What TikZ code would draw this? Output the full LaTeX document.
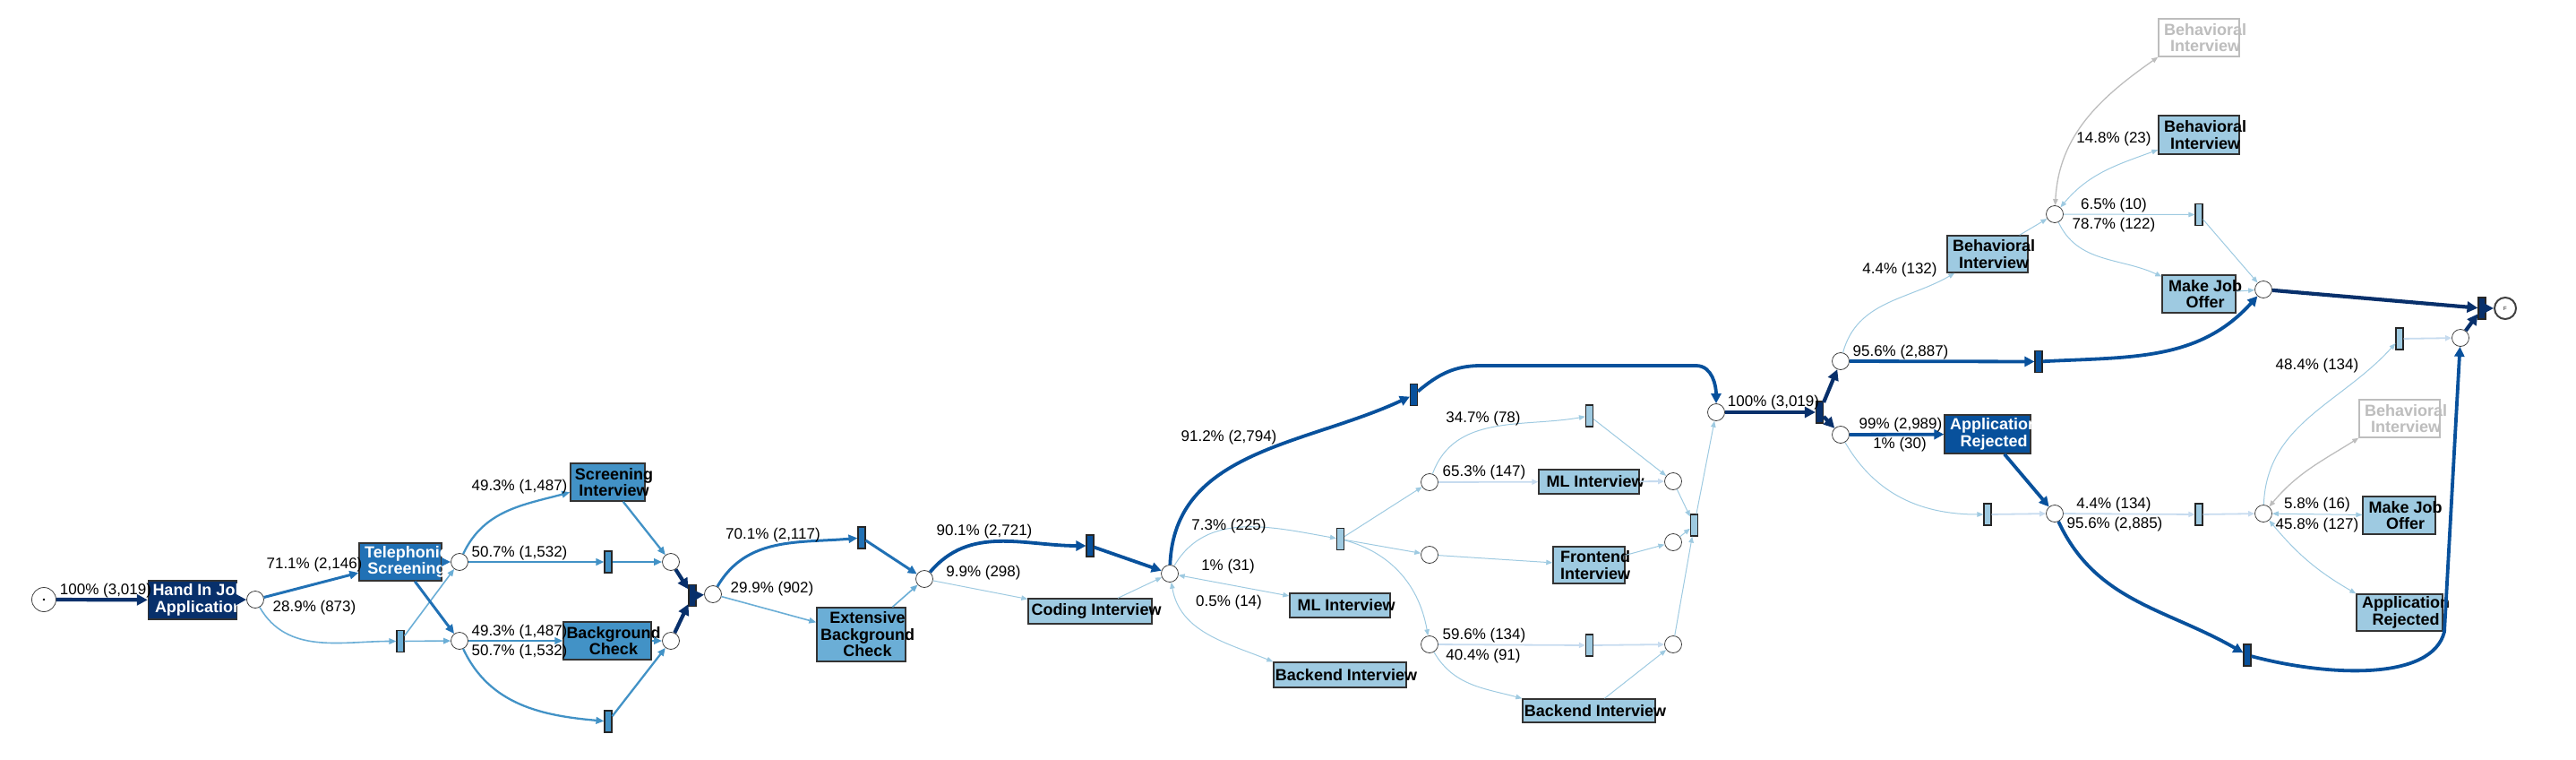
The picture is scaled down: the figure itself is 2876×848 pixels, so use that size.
\documentclass[tikz,border=0pt]{standalone}
\usepackage{fontspec}
\setmainfont{Liberation Sans}
\usetikzlibrary{arrows.meta}
\definecolor{bl1}{HTML}{08306B}
\definecolor{bl2}{HTML}{08519C}
\definecolor{bl3}{HTML}{2171B5}
\definecolor{bl4}{HTML}{4292C6}
\definecolor{bl5}{HTML}{6BAED6}
\definecolor{bl6}{HTML}{9ECAE1}
\definecolor{bl7}{HTML}{C6DBEF}
\definecolor{gry}{HTML}{BDBDBD}
\tikzset{
	pl/.style={circle, draw=black!75, line width=0.8pt, fill=white, minimum size=19pt, inner sep=0pt},
	sil/.style={rectangle, draw=black!85, line width=1.1pt, fill=#1, minimum width=8pt, minimum height=24pt, inner sep=0pt},
	act/.style n args={3}{rectangle, draw=black!80, line width=1.4pt, fill=#1, minimum width=#2pt, minimum height=#3pt, inner sep=0pt},
	tb/.style={font=\fontsize{18}{18.5}\selectfont\bfseries, align=center, inner sep=0pt, xshift=7pt, text=black},
	tw/.style={tb, text=white},
	tg/.style={tb, text=gry},
	lbl/.style={font=\fontsize{17}{17}\selectfont, inner sep=0pt},
	flow/.style n args={4}{draw=#1, line width=#2pt, -{Triangle[length=#3pt, width=#4pt]}},
	f1/.style={flow={bl1}{4.2}{12}{12}},
	f2/.style={flow={bl2}{3.8}{11}{11}},
	f3/.style={flow={bl3}{3}{10}{9}},
	f4/.style={flow={bl4}{2.3}{9}{7.5}},
	f5/.style={flow={bl5}{1.6}{8}{6.5}},
	f6/.style={flow={bl6}{1}{7}{5.5}},
	f7/.style={flow={bl7}{1.8}{7}{6}},
	f6b/.style={f6, <->, >={Triangle[length=7pt, width=5.5pt]}},
	fgb/.style={flow={gry}{1.3}{7}{5.5}, <->, >={Triangle[length=7pt, width=5.5pt]}}
}

\begin{document}
\begin{tikzpicture}[x=1pt, y=1pt]
	\useasboundingbox (0,0) rectangle (2876,-848);
	\node[pl, minimum size=27pt] (s0) at (49,-669) {};
	\fill (s0) circle (1.3pt);
	\node[act={bl1}{99}{43}, label={[tw]center:Hand In Job\\Application}] (hand) at (215,-669.5) {};
	\node[pl] (p1) at (285,-669) {};
	\node[act={bl3}{92}{42}, label={[tw]center:Telephonic\\Screening}] (tel) at (447,-627) {};
	\node[sil=bl5] (t1) at (447,-715.5) {};
	\node[pl] (p2) at (513,-627) {};
	\node[pl] (p3) at (513,-715) {};
	\node[act={bl4}{83}{42}, label={[tb]center:Screening\\Interview}] (scr) at (678.5,-538) {};
	\node[sil=bl4] (t2) at (679,-627) {};
	\node[act={bl4}{98}{42}, label={[tb]center:Background\\Check}] (bg) at (678,-715) {};
	\node[sil=bl4] (t3) at (679,-805) {};
	\node[pl] (p4) at (749,-627) {};
	\node[pl] (p5) at (749,-715) {};
	\node[sil=bl1] (t4) at (773,-664.5) {};
	\node[pl] (p6) at (796,-663) {};
	\node[sil=bl3] (t5) at (962,-600) {};
	\node[act={bl5}{99}{60}, label={[tb]center:Extensive\\Background\\Check}] (ebg) at (961.5,-708) {};
	\node[pl] (p7) at (1032,-646) {};
	\node[sil=bl2] (t6) at (1217,-609) {};
	\node[act={bl6}{138}{28}, label={[tb]center:Coding Interview}] (cod) at (1217,-682) {};
	\node[pl] (p8) at (1306,-640) {};
	\node[sil=bl6] (t7) at (1496.5,-601.5) {};
	\node[act={bl6}{112}{27}, label={[tb]center:ML Interview}] (mlx) at (1496,-675.5) {};
	\node[act={bl6}{148}{28}, label={[tb]center:Backend Interview}] (bex) at (1496,-753) {};
	\node[sil=bl2] (t8) at (1578.5,-440.5) {};
	\node[pl] (p9) at (1596,-538) {};
	\node[pl] (p11) at (1596,-619) {};
	\node[pl] (p13) at (1596,-719) {};
	\node[sil=bl6] (t9) at (1774.5,-464) {};
	\node[act={bl6}{112}{27}, label={[tb]center:ML Interview}] (ml) at (1774,-537.5) {};
	\node[act={bl6}{80}{41}, label={[tb]center:Frontend\\Interview}] (fe) at (1774,-630.5) {};
	\node[sil=bl6] (t11) at (1774.5,-720) {};
	\node[act={bl6}{148}{26}, label={[tb]center:Backend Interview}] (be) at (1774,-793) {};
	\node[pl] (p10) at (1868,-537) {};
	\node[pl] (p12) at (1868,-605) {};
	\node[pl] (p14) at (1868,-719) {};
	\node[sil=bl6] (t10) at (1891.5,-586) {};
	\node[pl] (p15) at (1916,-460) {};
	\node[sil=bl1] (t12) at (2031.5,-460) {};
	\node[pl] (p16) at (2055,-403) {};
	\node[pl] (p17) at (2055,-485) {};
	\node[act={bl6}{90}{41}, label={[tb]center:Behavioral\\Interview}] (beh1) at (2219,-283.5) {};
	\node[sil=bl2] (t13) at (2276,-403.5) {};
	\node[act={bl2}{96}{43}, label={[tw]center:Application\\Rejected}] (rej1) at (2219,-484.5) {};
	\node[sil=bl6] (t14) at (2219,-574) {};
	\node[pl] (p18) at (2294,-573) {};
	\node[pl] (p19) at (2294,-239) {};
	\node[act={white}{90}{42}, draw=gry, label={[tg]center:Behavioral\\Interview}] (gb1) at (2455,-42) {};
	\node[act={bl6}{90}{43}, label={[tb]center:Behavioral\\Interview}] (beh2) at (2455,-150.5) {};
	\node[sil=bl6] (t15) at (2455,-239.5) {};
	\node[act={bl6}{82}{42}, label={[tb]center:Make Job\\Offer}] (offer1) at (2455,-328) {};
	\node[pl] (p20) at (2527,-323) {};
	\node[sil=bl6] (t18) at (2455,-574) {};
	\node[pl] (p22) at (2527,-573) {};
	\node[sil=bl6] (t17) at (2679,-378) {};
	\node[pl] (p21) at (2747,-377) {};
	\node[act={white}{90}{42}, draw=gry, label={[tg]center:Behavioral\\Interview}] (gb2) at (2679,-467) {};
	\node[act={bl6}{81}{42}, label={[tb]center:Make Job\\Offer}] (offer2) at (2678.5,-575) {};
	\node[act={bl6}{96}{41}, label={[tb]center:Application\\Rejected}] (rej2) at (2679,-683.5) {};
	\node[sil=bl2] (t19) at (2509,-731) {};
	\node[sil=bl1] (t16) at (2771,-344) {};
	\node[pl, minimum size=24pt, line width=2pt, font=\fontsize{6}{6}\selectfont] (fin) at (2797,-344) {F};

	\draw[f1] (s0) -- (hand);
	\draw[f1] (hand) -- (p1);
	\draw[f3] (p1) -- (tel);
	\draw[f5] (p1) to[out=-60, in=180] (t1);
	\draw[f5] (t1) -- (p2);
	\draw[f5] (t1) -- (p3);
	\draw[f3] (tel) -- (p2);
	\draw[f3] (tel) -- (p3);
	\draw[f4] (p2) to[out=65, in=195] (scr);
	\draw[f4] (p2) -- (t2);
	\draw[f4] (t2) -- (p4);
	\draw[f4] (scr) -- (p4);
	\draw[f4] (p3) -- (bg);
	\draw[f4] (bg) -- (p5);
	\draw[f4] (p3) to[out=-65, in=175] (t3);
	\draw[f4] (t3) -- (p5);
	\draw[f1] (p4) -- (t4);
	\draw[f1] (p5) -- (t4);
	\draw[f1] (t4) -- (p6);
	\draw[f3] (p6) to[out=60, in=185] (t5);
	\draw[f5] (p6) -- (ebg);
	\draw[f3] (t5) -- (p7);
	\draw[f5] (ebg) -- (p7);
	\draw[f2] (p7) to[out=50, in=180] (t6);
	\draw[f6] (p7) -- (cod);
	\draw[f2] (t6) -- (p8);
	\draw[f6] (cod) -- (p8);
	\draw[f2] (p8) to[out=88, in=205] (t8);
	\draw[f2] (t8) to[out=40, in=180] ++(75,32.5) -- ++(240,0) to[out=0, in=90] (p15);
	\draw[f6] (p8) to[out=60, in=170] (t7);
	\draw[f6b] (p8) -- (mlx);
	\draw[f6b] (p8) to[out=-80, in=158] (bex.north west);
	\draw[f6] (t7) -- (p9);
	\draw[f6] (t7) -- (p11);
	\draw[f6] (t7) to[out=-15, in=100] (p13);
	\draw[f6] (p9) to[out=70, in=190] (t9);
	\draw[f7] (p9) -- (ml);
	\draw[f7] (ml) -- (p10);
	\draw[f6] (t9) -- (p10);
	\draw[f6] (p10) -- (t10);
	\draw[f6] (p11) -- (fe);
	\draw[f6] (fe) -- (p12);
	\draw[f6] (p12) -- (t10);
	\draw[f7] (p13) -- (t11);
	\draw[f6] (p13) to[out=-60, in=165] (be.north west);
	\draw[f7] (t11) -- (p14);
	\draw[f6] (be) -- (p14);
	\draw[f6] (p14) -- (t10);
	\draw[f6] (t10) -- (p15);
	\draw[f1] (p15) -- (t12);
	\draw[f1] (t12) -- (p16);
	\draw[f1] (t12) -- (p17);
	\draw[f6] (p16) to[out=75, in=210] (beh1);
	\draw[f2] (p16) -- (t13);
	\draw[f2] (t13) to[out=3, in=228] (p20);
	\draw[f2] (p17) -- (rej1);
	\draw[f6] (p17) to[out=-60, in=180] (t14);
	\draw[f7] (t14) -- (p18);
	\draw[f2] (rej1) -- (p18);
	\draw[f6] (beh1) -- (p19);
	\draw[f6] (p19) -- (t15);
	\draw[f6] (p19) to[out=-65, in=155] (offer1);
	\draw[f6b] (p19) to[out=50, in=200] (beh2);
	\draw[fgb] (p19) to[out=87, in=215] (gb1.south west);
	\draw[f6] (t15) -- (p20);
	\draw[f6] (offer1) -- (p20);
	\draw[f1] (p20) -- (t16);
	\draw[f7] (p18) -- (t18);
	\draw[f2] (p18) to[out=-65, in=150] (t19);
	\draw[f7] (t18) -- (p22);
	\draw[f6] (p22) to[out=88, in=228] (t17);
	\draw[fgb] (p22) to[out=50, in=212] (gb2.south west);
	\draw[f6b] (p22) -- (offer2);
	\draw[f6b] (p22) to[out=-50, in=150] (rej2.north west);
	\draw[f7] (t17) -- (p21);
	\draw[f2] (t19) .. controls (2600,-755) and (2715,-760) .. (2729,-705) -- (p21);
	\draw[f1] (p21) -- (t16);
	\draw[f1] (t16) -- (fin);

	\foreach \x/\y/\s [count=\i] in {
		118/659/{100\% (3,019)}, 351/630/{71.1\% (2,146)}, 351/678/{28.9\% (873)},
		580/543/{49.3\% (1,487)}, 580/617/{50.7\% (1,532)}, 580/705/{49.3\% (1,487)}, 580/727/{50.7\% (1,532)},
		863/597/{70.1\% (2,117)}, 862/657/{29.9\% (902)}, 1099/593/{90.1\% (2,721)}, 1098/639/{9.9\% (298)},
		1372/488/{91.2\% (2,794)}, 1372/587/{7.3\% (225)}, 1371/632/{1\% (31)}, 1372/672/{0.5\% (14)},
		1656/467/{34.7\% (78)}, 1657/527/{65.3\% (147)}, 1657/709/{59.6\% (134)}, 1656/732/{40.4\% (91)},
		1980/449/{100\% (3,019)}, 2121/301/{4.4\% (132)}, 2122/393/{95.6\% (2,887)}, 2122/474/{99\% (2,989)},
		2121/496/{1\% (30)}, 2360/563/{4.4\% (134)}, 2361/585/{95.6\% (2,885)}, 2360/155/{14.8\% (23)},
		2360/229/{6.5\% (10)}, 2360/251/{78.7\% (122)}, 2587/408/{48.4\% (134)}, 2587/563/{5.8\% (16)},
		2587/586/{45.8\% (127)}}
		\node[lbl] (lab\i) at (\x,-\y) {\s};
\end{tikzpicture}
\end{document}
